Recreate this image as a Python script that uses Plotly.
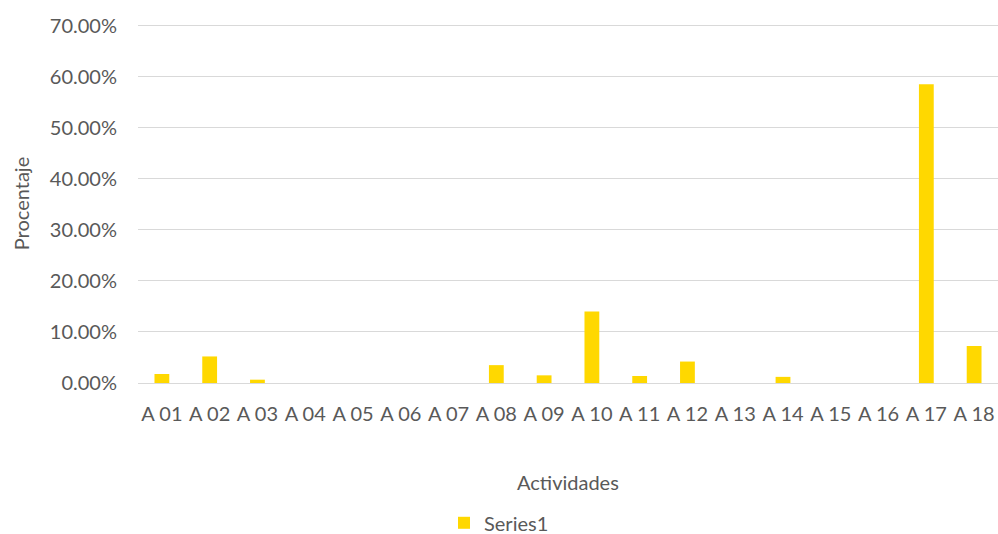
import plotly.graph_objects as go

categories = ["A 01", "A 02", "A 03", "A 04", "A 05", "A 06", "A 07", "A 08", "A 09",
              "A 10", "A 11", "A 12", "A 13", "A 14", "A 15", "A 16", "A 17", "A 18"]
values = [0.0176, 0.052, 0.0065, 0, 0, 0, 0, 0.035, 0.015,
          0.140, 0.0137, 0.042, 0, 0.012, 0, 0, 0.585, 0.0725]

FONT = "Lato, Carlito, Calibri, sans-serif"
TXT = "#595959"

fig = go.Figure()
fig.add_trace(go.Bar(x=categories, y=values, name="Series1",
                     marker=dict(color="#FFD800", line=dict(width=0))))

fig.update_layout(
    width=998, height=534,
    margin=dict(l=138, r=0, t=24, b=151, autoexpand=False),
    paper_bgcolor="white", plot_bgcolor="white",
    font=dict(family=FONT, size=20, color=TXT),
    bargap=0.69,
    showlegend=True,
    legend=dict(orientation="h", x=0.5, xref="container", xanchor="center",
                y=0.021, yref="container", yanchor="middle",
                font=dict(size=20, color=TXT), itemwidth=30),
    xaxis=dict(showgrid=False, showline=False, zeroline=False, ticks="",
               tickfont=dict(size=20, color=TXT), ticklabelstandoff=17),
    yaxis=dict(range=[0, 0.703], tickvals=[0, 0.1, 0.2, 0.3, 0.4, 0.5, 0.6, 0.7],
               tickformat=".2%",
               showgrid=True, gridcolor="#d9d9d9", gridwidth=1,
               zeroline=True, zerolinecolor="#d9d9d9", zerolinewidth=1,
               showline=False, ticks="", tickfont=dict(size=20, color=TXT),
               ticklabelstandoff=20,
               title=dict(text="Procentaje", font=dict(size=20, color=TXT), standoff=14)),
    annotations=[dict(text="Actividades", xref="paper", yref="paper", x=0.5, y=-0.277,
                      xanchor="center", yanchor="middle", showarrow=False,
                      font=dict(size=20, color=TXT))],
)

fig.write_html("out.html")
